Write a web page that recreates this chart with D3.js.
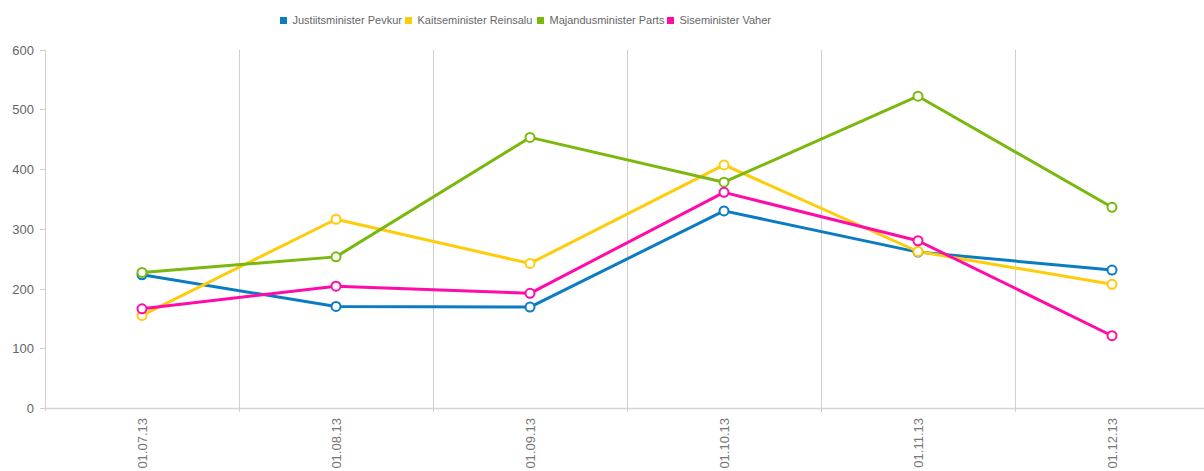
<!DOCTYPE html>
<head>
  <meta charset="utf-8">
  <script src="https://cdn.jsdelivr.net/npm/d3@7"></script>
  <style>
    body { margin:0; background:#fff; }
    text { font-family: "Liberation Sans", Arial, sans-serif; fill:#666; }
  </style>
</head>

<body>
  <script>
    let width = 1204,
        height = 471;

    // data
    let categories = ["01.07.13", "01.08.13", "01.09.13", "01.10.13", "01.11.13", "01.12.13"];
    let seriesNames = ["Justiitsminister Pevkur", "Kaitseminister Reinsalu", "Majandusminister Parts", "Siseminister Vaher"];
    let pevkur  = [223, 170, 169, 330, 261, 231];
    let reinsalu = [155, 316, 242, 407, 262, 207];
    let parts   = [227, 253, 453, 378, 522, 336];
    let vaher   = [166, 204, 192, 361, 280, 121];
    let yTicks = [0, 100, 200, 300, 400, 500, 600];
    let colors = ["#0b7bc4", "#ffcc0a", "#7ab80e", "#ff0ca8"];

    let series = [pevkur, reinsalu, parts, vaher];

    let svg = d3.select("body")
      .append("svg")
      .attr("width", width)
      .attr("height", height);

    let x = d3.scaleBand()
      .domain(categories)
      .range([45, 45 + 6 * 194])
      .padding(0);

    let y = d3.scaleLinear()
      .domain([0, 600])
      .range([408, 49.6]);

    // vertical grid lines between categories
    svg.selectAll(".grid")
      .data(categories.slice(1))
      .enter().append("line")
      .attr("class", "grid")
      .attr("x1", d => Math.round(x(d)) + 0.5)
      .attr("x2", d => Math.round(x(d)) + 0.5)
      .attr("y1", y(600))
      .attr("y2", 412)
      .style("stroke", "#cfcfcf")
      .style("stroke-width", 1);

    // y axis
    svg.append("line")
      .attr("x1", 45.5).attr("x2", 45.5)
      .attr("y1", y(600)).attr("y2", 411)
      .style("stroke", "#cfcfcf");

    let yt = svg.selectAll(".ytick")
      .data(yTicks)
      .enter().append("g")
      .attr("class", "ytick")
      .attr("transform", d => "translate(0," + Math.round(y(d)) + ")");

    yt.append("line")
      .attr("x1", 40).attr("x2", 45)
      .attr("y1", 0.5).attr("y2", 0.5)
      .style("stroke", "#cfcfcf");

    yt.append("text")
      .attr("x", 34)
      .attr("y", 0)
      .attr("dy", ".35em")
      .style("text-anchor", "end")
      .style("font-size", "13px")
      .text(d => d);

    // x axis
    svg.append("line")
      .attr("x1", 45).attr("x2", width)
      .attr("y1", 408.5).attr("y2", 408.5)
      .style("stroke", "#d4d4d4")
      .style("stroke-width", 1.5);

    svg.selectAll(".xlabel")
      .data(categories)
      .enter().append("text")
      .attr("class", "xlabel")
      .attr("transform", d => "translate(" + (x(d) + x.bandwidth() / 2 + 5) + ",418) rotate(-90)")
      .style("text-anchor", "end")
      .style("font-size", "13px")
      .style("fill", "#777")
      .text(d => d);

    // lines and markers
    let line = d3.line()
      .x((d, i) => x(categories[i]) + x.bandwidth() / 2)
      .y(d => y(d));

    series.forEach((s, k) => {
      svg.append("path")
        .datum(s)
        .attr("d", line)
        .style("fill", "none")
        .style("stroke", colors[k])
        .style("stroke-width", 3)
        .style("stroke-linejoin", "round");
    });

    series.forEach((s, k) => {
      svg.selectAll(".dot" + k)
        .data(s)
        .enter().append("circle")
        .attr("cx", (d, i) => x(categories[i]) + x.bandwidth() / 2)
        .attr("cy", d => y(d))
        .attr("r", 4.5)
        .style("fill", "#fff")
        .style("stroke", colors[k])
        .style("stroke-width", 2);
    });

    // legend
    let legendX = [280, 405, 537, 667];
    let legend = svg.selectAll(".legend")
      .data(seriesNames)
      .enter().append("g")
      .attr("class", "legend")
      .attr("transform", (d, i) => "translate(" + legendX[i] + ",0)");

    legend.append("rect")
      .attr("x", 0)
      .attr("y", 17)
      .attr("width", 7)
      .attr("height", 7)
      .style("fill", (d, i) => colors[i]);

    legend.append("text")
      .attr("x", 12.5)
      .attr("y", 20.5)
      .attr("dy", ".35em")
      .style("font-size", "11px")
      .text(d => d);
  </script>
</body>
